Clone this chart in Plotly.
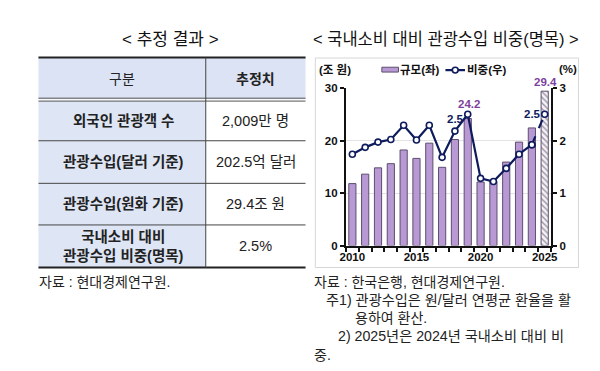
import plotly.graph_objects as go

# ---------------- data ----------------
years = list(range(2010, 2026))
receipts = [11.8, 13.6, 14.8, 15.6, 18.2, 16.6, 19.5, 14.9, 20.2, 24.2,
            12.1, 12.2, 15.9, 19.7, 22.4, 29.4]          # 조 원 (left)
share = [1.74, 1.87, 1.97, 2.02, 2.29, 2.01, 2.29, 1.68, 2.18, 2.5,
         1.28, 1.22, 1.47, 1.74, 1.92, 2.5]              # % (right)
labelled_years = [2019, 2025]
x_ticks = [2010, 2015, 2020, 2025]
legend_names = ["규모(좌)", "비중(우)"]

table_header = ["구분", "추정치"]
table_items = ["외국인 관광객 수", "관광수입(달러 기준)", "관광수입(원화 기준)",
               "국내소비 대비<br>관광수입 비중(명목)"]
table_values = ["2,009만 명", "202.5억 달러", "29.4조 원", "2.5%"]

W, H = 600, 371
def px(x): return x / W
def py(y): return 1 - y / H

KFONT = "Liberation Sans, Noto Sans CJK KR"
NUMFONT = "Liberation Sans"
BAR_FILL = "#B899D3"
BAR_LINE = "#5E4E70"
NAVY = "#0E1B5C"
LABEL_PURPLE = "#7D3F9E"

fig = go.Figure()

# bars
fig.add_trace(go.Bar(
    x=years, y=receipts, name=legend_names[0], showlegend=False,
    width=0.56,
    marker=dict(
        color=[BAR_FILL] * (len(years) - 1) + ["#F4EFF8"],
        line=dict(color=BAR_LINE, width=1),
        pattern=dict(shape=[""] * (len(years) - 1) + ["\\"],
                     fgcolor="#A27FC4", size=4, solidity=0.35),
    ),
    yaxis="y",
))

# line (solid part 2010-2024)
fig.add_trace(go.Scatter(
    x=years[:-1], y=share[:-1], name=legend_names[1], yaxis="y2", showlegend=False,
    mode="lines+markers",
    line=dict(color=NAVY, width=2.2),
    marker=dict(symbol="circle", size=6, color="white",
                line=dict(color=NAVY, width=1.6)),
    cliponaxis=False,
))
# dashed final segment 2024-2025
fig.add_trace(go.Scatter(
    x=years[-2:], y=share[-2:], yaxis="y2", showlegend=False,
    mode="lines+markers",
    line=dict(color=NAVY, width=2.2, dash="dash"),
    marker=dict(symbol="circle", size=6, color="white",
                line=dict(color=NAVY, width=1.6)),
    cliponaxis=False,
))

tickfont = dict(family=NUMFONT, size=11.5, color="#111", weight="bold")
fig.update_layout(
    width=W, height=H,
    margin=dict(l=0, r=0, t=0, b=0),
    paper_bgcolor="white", plot_bgcolor="white",
    showlegend=False,
    xaxis=dict(domain=[px(339.3), px(549)], range=[2009.5, 2025.5],
               tickvals=x_ticks, ticktext=[str(v) for v in x_ticks],
               ticks="", tickfont=tickfont, showgrid=False,
               showline=True, linecolor="#111", linewidth=2,
               minor=dict(tickmode="linear", tick0=2009.5, dtick=1,
                          ticks="outside", ticklen=4, tickcolor="#111", tickwidth=1.5),
               anchor="y", fixedrange=True),
    yaxis=dict(domain=[py(239.3), py(76.5)], range=[0, 30],
               tickvals=[0, 10, 20, 30], tickfont=tickfont,
               ticks="outside", ticklen=4, tickcolor="#111", tickwidth=1.5,
               showline=True, linecolor="#111", linewidth=2,
               showgrid=True, gridcolor="#E3E3E3", gridwidth=1,
               zeroline=False, anchor="x"),
    yaxis2=dict(domain=[py(239.3), py(76.5)], range=[0, 3], overlaying="y", side="right",
                tickvals=[0, 1, 2, 3], tickfont=tickfont,
                ticks="outside", ticklen=4, tickcolor="#111", tickwidth=1.5,
                showline=True, linecolor="#111", linewidth=2,
                showgrid=False, zeroline=False, anchor="x"),
)

shapes = []
annotations = []

# value labels tied to the data through the axes
for yr in labelled_years:
    i = years.index(yr)
    last = yr == years[-1]
    annotations.append(dict(x=yr, y=receipts[i], xref="x", yref="y",
                            text=f"{receipts[i]:.1f}", showarrow=False,
                            xanchor="center", yanchor="bottom",
                            yshift=2 if last else 7, xshift=1,
                            borderpad=0,
                            font=dict(family=NUMFONT, size=11.5, color=LABEL_PURPLE,
                                      weight="bold")))
    annotations.append(dict(x=yr, y=share[i], xref="x", yref="y2",
                            text=f"{share[i]:.1f}", showarrow=False,
                            xanchor="right", yanchor="middle", xshift=-3,
                            yshift=0 if last else -5,
                            borderpad=0,
                            font=dict(family=NUMFONT, size=11.5, color=NAVY,
                                      weight="bold")))

def text(x, y, s, size=13, bold=False, color="#222", xanchor="center", font=KFONT,
         align="center"):
    annotations.append(dict(x=px(x), y=py(y), xref="paper", yref="paper", text=s,
                            showarrow=False, xanchor=xanchor, yanchor="middle",
                            borderpad=0,
                            font=dict(family=font, size=size, color=color,
                                      weight="bold" if bold else "normal"),
                            align=align))

def rect(x0, y0, x1, y1, fill=None, line=None, lw=1, layer="below"):
    shapes.append(dict(type="rect", xref="paper", yref="paper",
                       x0=px(x0), x1=px(x1), y0=py(y1), y1=py(y0),
                       fillcolor=fill or "rgba(0,0,0,0)",
                       line=dict(color=line or "rgba(0,0,0,0)", width=lw if line else 0),
                       layer=layer))

def hline(x0, x1, y, color="#444", w=1, dash="solid"):
    shapes.append(dict(type="line", xref="paper", yref="paper",
                       x0=px(x0), x1=px(x1), y0=py(y), y1=py(y),
                       line=dict(color=color, width=w, dash=dash)))

def vline(x, y0, y1, color="#444", w=1):
    shapes.append(dict(type="line", xref="paper", yref="paper",
                       x0=px(x), x1=px(x), y0=py(y0), y1=py(y1),
                       line=dict(color=color, width=w)))

# ---- chart frame ----
rect(308, 45.5, 577, 262, line="#D6D6D6", lw=1)
text(442, 26, "< 국내소비 대비 관광수입 비중(명목) >", size=16.5, color="#111")
text(311, 57, "(조 원)", size=11.5, bold=True, color="#111", xanchor="left")
text(566, 57, "(%)", size=11.5, bold=True, color="#111")

# ---- legend (drawn) ----
rect(376, 55, 393, 60, fill=BAR_FILL, line=BAR_LINE, lw=1, layer="above")
text(394, 58, legend_names[0], size=11.5, bold=True, color="#111", xanchor="left")
hline(441, 461, 58, color=NAVY, w=2.2)
shapes.append(dict(type="circle", xref="paper", yref="paper",
                   x0=px(448), x1=px(454), y0=py(61), y1=py(55),
                   fillcolor="white", line=dict(color=NAVY, width=1.6)))
text(462, 58, legend_names[1], size=11.5, bold=True, color="#111", xanchor="left")

# ---- table ----
TL, TM, TR = 25, 196, 298
text(160, 26, "< 추정 결과 >", size=17, color="#111")
row_edges = [90, 131, 175, 218, 262]
rect(TL, 45, TR, 88, fill="#DCE3F4")
for i in range(4):
    rect(TL, row_edges[i], TM, row_edges[i + 1], fill="#DEE5F5")
hline(TL, TR, 45, color="#222", w=2)
hline(TL, TR, 87, color="#555", w=1)
hline(TL, TR, 90, color="#555", w=1)
for yy in row_edges[1:-1]:
    hline(TL, TR, yy, color="#444", w=1)
hline(TL, TR, 262, color="#222", w=2)
vline(TM, 45, 262, color="#444", w=1)

text((TL + TM) / 2, 67, table_header[0], size=14, color="#222")
text((TM + TR) / 2, 67, table_header[1], size=14, bold=True, color="#222")
for i in range(4):
    cy = (row_edges[i] + row_edges[i + 1]) / 2
    text((TL + TM) / 2 + 1, cy, table_items[i], size=14.5, bold=True, color="#222")
    text((TM + TR) / 2, cy, table_values[i], size=14.5, color="#222")

# ---- footnotes ----
text(25, 277, "자료 : 현대경제연구원.", size=14, xanchor="left")
text(306, 277, "자료 : 한국은행, 현대경제연구원.", size=14, xanchor="left")
text(318, 296, "주1) 관광수입은 원/달러 연평균 환율을 활", size=14.2, xanchor="left")
text(348, 314.5, "용하여 환산.", size=14, xanchor="left")
text(330, 333, "2) 2025년은 2024년 국내소비 대비 비", size=14.2, xanchor="left")
text(306, 352, "중.", size=14, xanchor="left")

fig.update_layout(shapes=shapes, annotations=annotations)
fig.write_html("out.html")
